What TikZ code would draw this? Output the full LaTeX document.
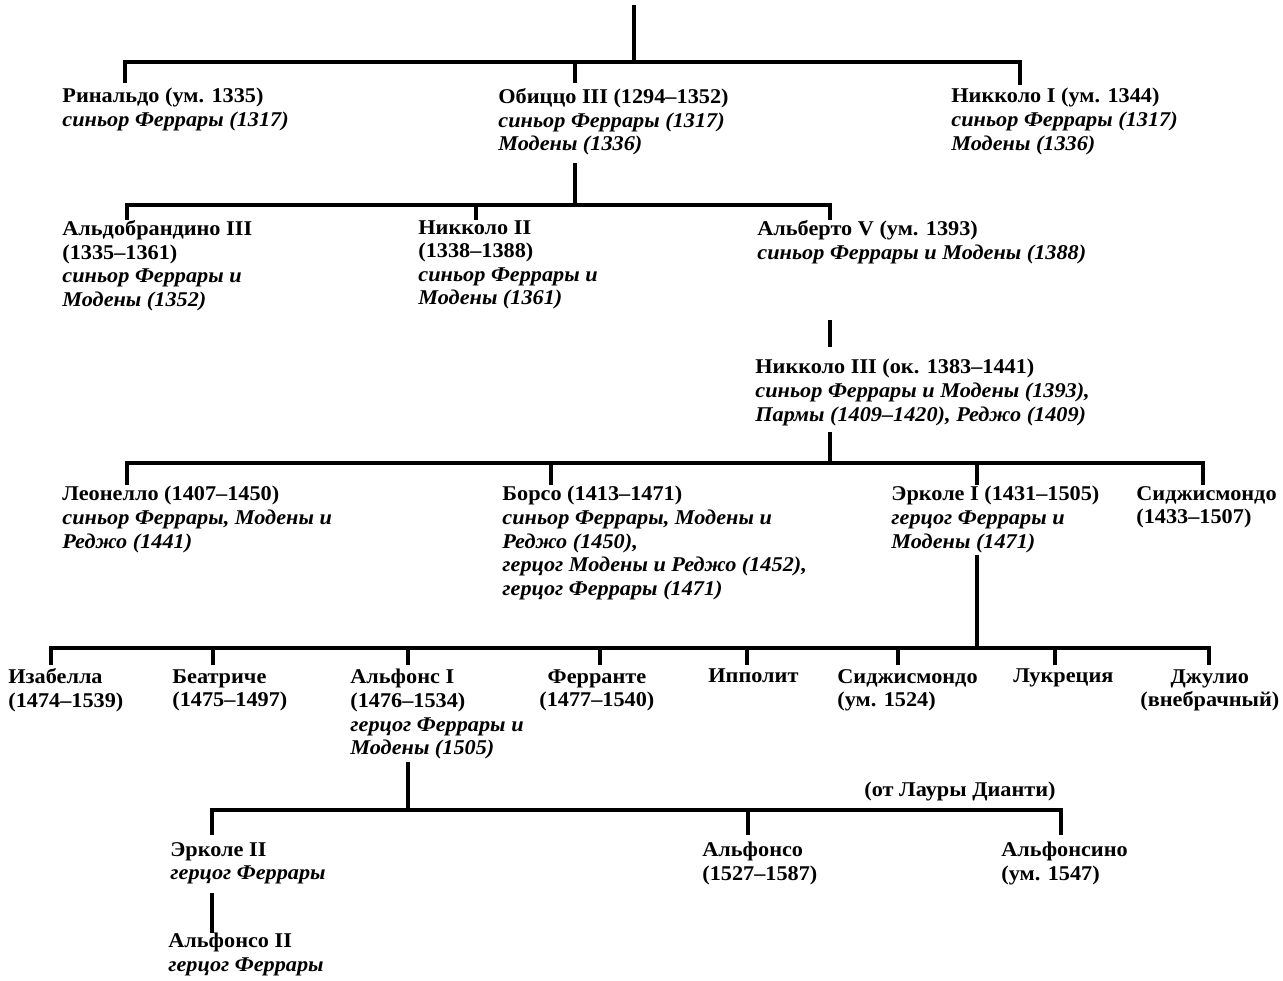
\documentclass[tikz,border=0pt]{standalone}
\usepackage{fontspec}
\setmainfont{Liberation Serif}[FakeStretch=1.06]
\usepackage{tikz}
\newcommand{\pfont}{\fontsize{10.5}{11.8}\selectfont\bfseries}

\begin{document}
\begin{tikzpicture}[x=0.5pt,y=-0.5pt]
\tikzstyle{person} = [anchor=north west, align=left, inner sep=0pt, font=\pfont]
\tikzstyle{line} = [draw=black, line width=1.7pt]

\useasboundingbox (0,0) rectangle (1283,980);

% generation 1
\node[person] (rinaldo) at (62,88) {Ринальдо (ум. 1335)\\ \textit{синьор Феррары (1317)}};
\node[person] (obizzo) at (498,88) {Обиццо III (1294–1352)\\ \textit{синьор Феррары (1317)}\\ \textit{Модены (1336)}};
\node[person] (nikkolo1) at (951,88) {Никколо I (ум. 1344)\\ \textit{синьор Феррары (1317)}\\ \textit{Модены (1336)}};

% generation 2
\node[person] (aldobrandino) at (62,220) {Альдобрандино III\\ (1335–1361)\\ \textit{синьор Феррары и}\\ \textit{Модены (1352)}};
\node[person] (nikkolo2) at (418,220) {Никколо II\\ (1338–1388)\\ \textit{синьор Феррары и}\\ \textit{Модены (1361)}};
\node[person] (alberto) at (757,220) {Альберто V (ум. 1393)\\ \textit{синьор Феррары и Модены (1388)}};

% generation 3
\node[person] (nikkolo3) at (755,359) {Никколо III (ок. 1383–1441)\\ \textit{синьор Феррары и Модены (1393),}\\ \textit{Пармы (1409–1420), Реджо (1409)}};

% generation 4
\node[person] (leonello) at (62,486) {Леонелло (1407–1450)\\ \textit{синьор Феррары, Модены и}\\ \textit{Реджо (1441)}};
\node[person] (borso) at (502,486) {Борсо (1413–1471)\\ \textit{синьор Феррары, Модены и}\\ \textit{Реджо (1450),}\\ \textit{герцог Модены и Реджо (1452),}\\ \textit{герцог Феррары (1471)}};
\node[person] (ercole1) at (891,486) {Эрколе I (1431–1505)\\ \textit{герцог Феррары и}\\ \textit{Модены (1471)}};
\node[person] (sigismondo1) at (1136,486) {Сиджисмондо\\ (1433–1507)};

% generation 5
\node[person] (isabella) at (8,668) {Изабелла\\ (1474–1539)};
\node[person] (beatrice) at (172,669) {Беатриче\\ (1475–1497)};
\node[person] (alfonso1) at (350,669) {Альфонс I\\ (1476–1534)\\ \textit{герцог Феррары и}\\ \textit{Модены (1505)}};
\node[person, align=center] (ferrante) at (539,669) {Ферранте\\ (1477–1540)};
\node[person] (ippolito) at (708,668) {Ипполит};
\node[person] (sigismondo2) at (837,669) {Сиджисмондо\\ (ум. 1524)};
\node[person] (lucrezia) at (1013,668) {Лукреция};
\node[person, align=center] (giulio) at (1140,669) {Джулио\\ (внебрачный)};

% generation 6
\node[person] (ercole2) at (170,842) {Эрколе II\\ \textit{герцог Феррары}};
\node[person] (alfonso) at (702,842) {Альфонсо\\ (1527–1587)};
\node[person] (alfonsino) at (1001,842) {Альфонсино\\ (ум. 1547)};
\node[font=\pfont, inner sep=0pt] (laura) at (960,791) {(от Лауры Дианти)};
\node[person] (alfonso2) at (168,933) {Альфонсо II\\ \textit{герцог Феррары}};

% connector points
\coordinate (root) at (634,5);
\coordinate (j1) at (634,62);
\coordinate (rinaldo-t) at (125,83);
\coordinate (obizzo-t) at (575,83);
\coordinate (nikkolo1-t) at (1020,85);
\coordinate (obizzo-b) at (575,163);
\coordinate (j2) at (575,205);
\coordinate (aldobrandino-t) at (127,220);
\coordinate (nikkolo2-t) at (476,220);
\coordinate (alberto-t) at (830,220);
\coordinate (alberto-b) at (830,320);
\coordinate (nikkolo3-t) at (830,347);
\coordinate (nikkolo3-b) at (830,432);
\coordinate (j4) at (830,463);
\coordinate (leonello-t) at (127,485);
\coordinate (borso-t) at (551,485);
\coordinate (ercole1-t) at (977,485);
\coordinate (sigismondo1-t) at (1203,485);
\coordinate (ercole1-b) at (977,555);
\coordinate (j5) at (977,648);
\coordinate (isabella-t) at (51,665);
\coordinate (beatrice-t) at (213,665);
\coordinate (alfonso1-t) at (408,665);
\coordinate (ferrante-t) at (600,665);
\coordinate (ippolito-t) at (747,665);
\coordinate (sigismondo2-t) at (898,665);
\coordinate (lucrezia-t) at (1055,665);
\coordinate (giulio-t) at (1209,665);
\coordinate (alfonso1-b) at (408,762);
\coordinate (j6) at (408,810);
\coordinate (ercole2-t) at (212,835);
\coordinate (alfonso-t) at (748,835);
\coordinate (alfonsino-t) at (1061,835);
\coordinate (ercole2-b) at (212,893);
\coordinate (alfonso2-t) at (212,933);

% connectors
\draw[line] (root) -- (j1);
\draw[line] (rinaldo-t) |- (j1) -| (nikkolo1-t);
\draw[line] (obizzo-t) -- (obizzo-t |- j1);

\draw[line] (obizzo-b) -- (j2);
\draw[line] (aldobrandino-t) |- (j2) -| (alberto-t);
\draw[line] (nikkolo2-t) -- (nikkolo2-t |- j2);

\draw[line] (alberto-b) -- (nikkolo3-t);

\draw[line] (nikkolo3-b) -- (j4);
\draw[line] (leonello-t) |- (j4) -| (sigismondo1-t);
\draw[line] (borso-t) -- (borso-t |- j4);
\draw[line] (ercole1-t) -- (ercole1-t |- j4);

\draw[line] (ercole1-b) -- (j5);
\draw[line] (isabella-t) |- (j5) -| (giulio-t);
\draw[line] (beatrice-t) -- (beatrice-t |- j5);
\draw[line] (alfonso1-t) -- (alfonso1-t |- j5);
\draw[line] (ferrante-t) -- (ferrante-t |- j5);
\draw[line] (ippolito-t) -- (ippolito-t |- j5);
\draw[line] (sigismondo2-t) -- (sigismondo2-t |- j5);
\draw[line] (lucrezia-t) -- (lucrezia-t |- j5);

\draw[line] (alfonso1-b) -- (j6);
\draw[line] (ercole2-t) |- (j6) -| (alfonsino-t);
\draw[line] (alfonso-t) -- (alfonso-t |- j6);

\draw[line] (ercole2-b) -- (alfonso2-t);
\end{tikzpicture}
\end{document}
